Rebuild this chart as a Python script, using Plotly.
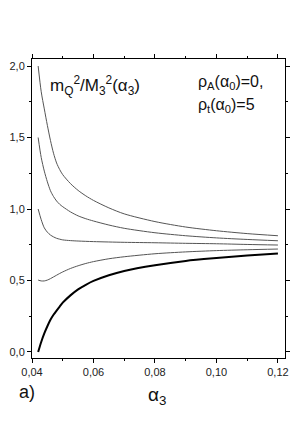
import plotly.graph_objects as go

# ---- data ----
alpha_1 = [0.042, 0.043, 0.044, 0.045, 0.046, 0.047, 0.048, 0.049, 0.050, 0.0525, 0.055, 0.0575, 0.060, 0.065, 0.070, 0.080, 0.090, 0.100, 0.110, 0.120]
curve_1 = [2.00, 1.82, 1.70, 1.585, 1.48, 1.39, 1.322, 1.276, 1.24, 1.178, 1.13, 1.092, 1.06, 1.008, 0.966, 0.912, 0.874, 0.848, 0.828, 0.813]

alpha_2 = [0.042, 0.043, 0.044, 0.045, 0.046, 0.047, 0.048, 0.049, 0.050, 0.0525, 0.055, 0.0575, 0.060, 0.065, 0.070, 0.080, 0.090, 0.100, 0.110, 0.120]
curve_2 = [1.50, 1.36, 1.265, 1.19, 1.128, 1.087, 1.056, 1.033, 1.016, 0.98, 0.952, 0.932, 0.916, 0.888, 0.865, 0.834, 0.813, 0.798, 0.787, 0.778]

alpha_3 = [0.042, 0.043, 0.044, 0.045, 0.046, 0.047, 0.048, 0.049, 0.050, 0.0525, 0.055, 0.060, 0.070, 0.080, 0.090, 0.100, 0.110, 0.120]
curve_3 = [1.00, 0.925, 0.868, 0.838, 0.818, 0.805, 0.795, 0.789, 0.784, 0.779, 0.776, 0.772, 0.767, 0.764, 0.760, 0.757, 0.752, 0.748]

alpha_4 = [0.042, 0.043, 0.044, 0.045, 0.046, 0.047, 0.048, 0.049, 0.050, 0.0525, 0.055, 0.0575, 0.060, 0.065, 0.070, 0.080, 0.090, 0.100, 0.110, 0.120]
curve_4 = [0.503, 0.497, 0.497, 0.503, 0.513, 0.525, 0.537, 0.549, 0.56, 0.584, 0.603, 0.619, 0.632, 0.652, 0.666, 0.687, 0.700, 0.709, 0.715, 0.720]

alpha_5 = [0.042, 0.043, 0.044, 0.045, 0.046, 0.047, 0.048, 0.049, 0.050, 0.0525, 0.055, 0.0575, 0.060, 0.065, 0.070, 0.080, 0.090, 0.100, 0.110, 0.120]
curve_5 = [0.0, 0.07, 0.13, 0.18, 0.225, 0.26, 0.29, 0.318, 0.345, 0.396, 0.438, 0.470, 0.497, 0.537, 0.567, 0.607, 0.637, 0.657, 0.674, 0.688]

x_ticks = [0.04, 0.06, 0.08, 0.10, 0.12]
x_tick_labels = ["0,04", "0,06", "0,08", "0,10", "0,12"]
y_ticks = [0.0, 0.5, 1.0, 1.5, 2.0]
y_tick_labels = ["0,0", "0,5", "1,0", "1,5", "2,0"]

FONT = "Liberation Sans, Arial, sans-serif"

fig = go.Figure()
thin = [(alpha_1, curve_1), (alpha_2, curve_2), (alpha_3, curve_3), (alpha_4, curve_4)]
for xs, ys in thin:
    fig.add_trace(go.Scatter(x=xs, y=ys, mode="lines",
                             line=dict(color="#555555", width=1, shape="spline", smoothing=0.8),
                             showlegend=False, hoverinfo="skip"))
fig.add_trace(go.Scatter(x=alpha_5, y=curve_5, mode="lines",
                         line=dict(color="black", width=2, shape="spline", smoothing=0.8),
                         showlegend=False, hoverinfo="skip"))

axis_common = dict(showline=True, linecolor="black", linewidth=1, mirror="allticks",
                   ticks="outside", ticklen=4, tickwidth=1, tickcolor="black",
                   showgrid=False, zeroline=False,
                   tickfont=dict(family=FONT, size=11, color="#222222"))

fig.update_xaxes(range=[0.04, 0.1223], tickvals=x_ticks, ticktext=x_tick_labels,
                 minor=dict(tickvals=[0.05, 0.07, 0.09, 0.11], ticklen=2, ticks="outside",
                            tickcolor="black", tickwidth=1),
                 **axis_common)
fig.update_yaxes(range=[-0.042, 2.049], tickvals=y_ticks, ticktext=y_tick_labels,
                 minor=dict(tickvals=[0.25, 0.75, 1.25, 1.75], ticklen=2, ticks="outside",
                            tickcolor="black", tickwidth=1),
                 **axis_common)

fig.update_layout(
    width=300, height=431,
    margin=dict(l=27, r=10, t=59, b=73),
    plot_bgcolor="white", paper_bgcolor="white",
    font=dict(family=FONT, color="#111111"),
    annotations=[
        dict(text="m<sub>Q</sub><sup>2</sup>/M<sub>3</sub><sup>2</sup>(α<sub>3</sub>)",
             xref="paper", yref="paper", x=0.062, y=0.91, xanchor="left", yanchor="middle",
             showarrow=False, font=dict(family=FONT, size=17, color="#111111")),
        dict(text="ρ<sub>A</sub>(α<sub>0</sub>)=0,",
             xref="paper", yref="paper", x=0.648, y=0.92, xanchor="left", yanchor="middle",
             showarrow=False, font=dict(family=FONT, size=16, color="#111111")),
        dict(text="ρ<sub>t</sub>(α<sub>0</sub>)=5",
             xref="paper", yref="paper", x=0.648, y=0.846, xanchor="left", yanchor="middle",
             showarrow=False, font=dict(family=FONT, size=16, color="#111111")),
        dict(text="a)", xref="paper", yref="paper", x=-0.02, y=-0.114,
             xanchor="center", yanchor="middle", showarrow=False,
             font=dict(family=FONT, size=18, color="#111111")),
        dict(text="α<sub>3</sub>", xref="paper", yref="paper", x=0.494, y=-0.127,
             xanchor="center", yanchor="middle", showarrow=False,
             font=dict(family=FONT, size=19, color="#111111")),
    ],
)

fig.write_html("out.html", config={"displayModeBar": False},
               post_script="document.body.style.margin='0';document.body.style.padding='0';")
